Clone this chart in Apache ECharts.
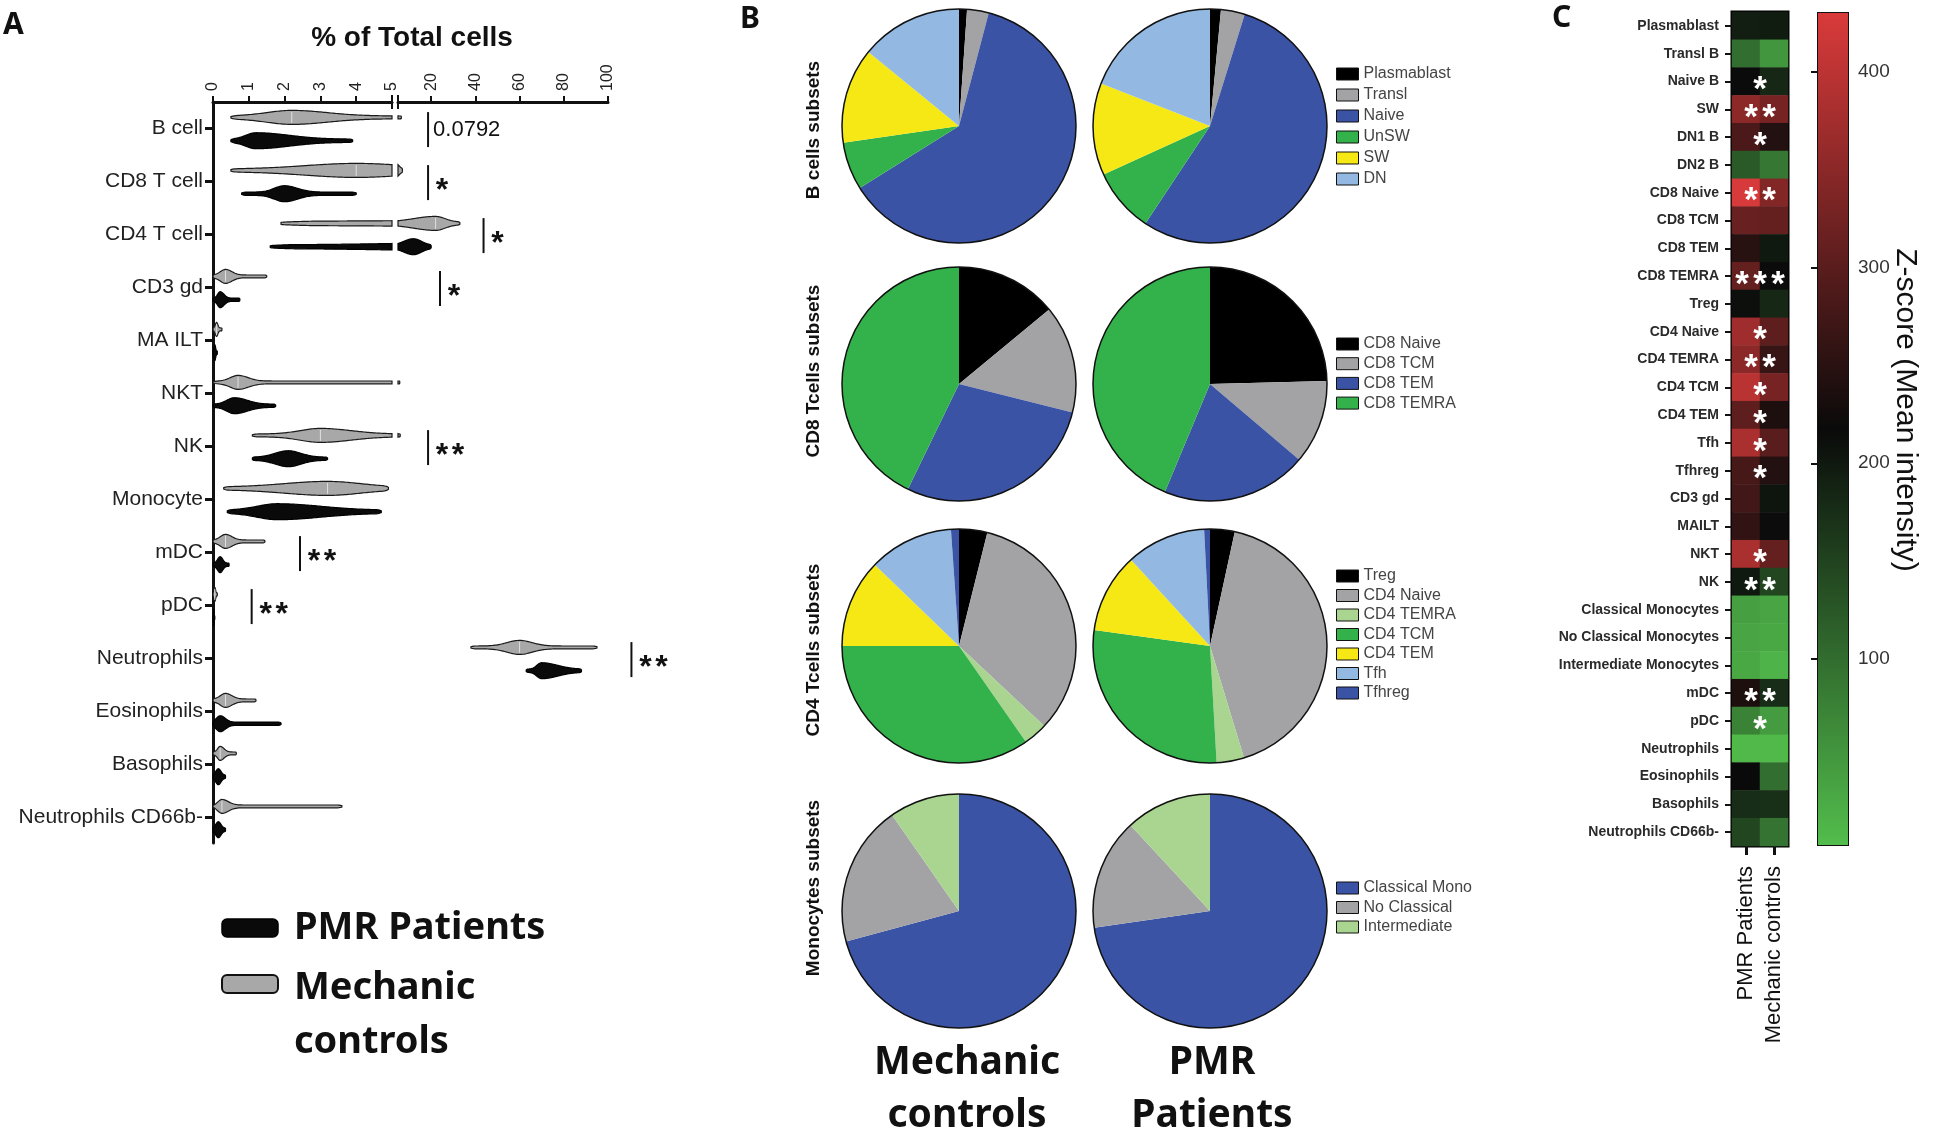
<!DOCTYPE html>
<html><head><meta charset="utf-8">
<script src="https://cdn.jsdelivr.net/npm/echarts@6/dist/echarts.min.js"></script>
<style>html,body{margin:0;padding:0;background:#fff}#c{width:1934px;height:1133px}</style>
</head><body><div id="c"></div>
<script>
// ---------------- Panel A data ----------------
const cellTypes = ['B cell','CD8 T cell','CD4 T cell','CD3 gd','MA ILT','NKT','NK','Monocyte','mDC','pDC','Neutrophils','Eosinophils','Basophils','Neutrophils CD66b-'];
// violins: [min, q1, median, q3, max] (% of total cells)
const ctrlViolin = [
  [0.5, 1.2, 2.2, 3.6, 6.5],
  [0.5, 2.0, 4.0, 6.0, 7.0],
  [1.9, 8, 22, 28, 33],
  [0.0, 0.15, 0.35, 0.6, 1.5],
  [0.0, 0.05, 0.1, 0.15, 0.25],
  [0.0, 0.4, 0.7, 1.1, 5.8],
  [1.1, 2.2, 3.0, 4.2, 6.0],
  [0.3, 1.5, 3.2, 4.5, 4.9],
  [0.0, 0.15, 0.35, 0.6, 1.45],
  [0.0, 0.02, 0.05, 0.08, 0.12],
  [38, 52, 60, 68, 95],
  [0.0, 0.15, 0.35, 0.6, 1.2],
  [0.0, 0.1, 0.2, 0.35, 0.65],
  [0.0, 0.1, 0.25, 0.5, 3.6]
];
const pmrViolin = [
  [0.5, 0.8, 1.2, 2.5, 3.9],
  [0.8, 1.6, 2.0, 2.5, 4.0],
  [1.6, 6, 12, 17, 20],
  [0.0, 0.1, 0.2, 0.35, 0.75],
  [0.0, 0.02, 0.05, 0.08, 0.12],
  [0.0, 0.3, 0.6, 1.1, 1.75],
  [1.1, 1.6, 2.1, 2.6, 3.2],
  [0.4, 1.0, 1.8, 3.5, 4.7],
  [0.0, 0.1, 0.2, 0.3, 0.45],
  [0.0, 0.01, 0.02, 0.03, 0.05],
  [63, 67, 70, 80, 88],
  [0.0, 0.05, 0.2, 0.4, 1.9],
  [0.0, 0.05, 0.15, 0.25, 0.35],
  [0.0, 0.05, 0.15, 0.25, 0.35]
];
const axisLeftTicks = [0,1,2,3,4,5];
const axisRightTicks = [20,40,60,80,100];
const sigRows   = [0, 1, 2, 3, 6, 8, 9, 10];
const sigPos    = [18.6, 18.6, 43.7, 24, 18.6, 2.43, 1.08, 110.6];
const sigLabels = ['0.0792','*','*','*','**','**','**','**'];

// ---------------- Panel B data ----------------
const bNames = ['Plasmablast','Transl','Naive','UnSW','SW','DN'];
const bMC  = [1.1, 3.0, 62.0, 6.6, 13.2, 14.1];
const bPMR = [1.5, 3.3, 54.5, 8.9, 12.7, 19.1];
const cd8Names = ['CD8 Naive','CD8 TCM','CD8 TEM','CD8 TEMRA'];
const cd8MC  = [14.0, 14.9, 28.3, 42.8];
const cd8PMR = [24.6, 11.6, 20.1, 43.7];
const cd4Names = ['Treg','CD4 Naive','CD4 TEMRA','CD4 TCM','CD4 TEM','Tfh','Tfhreg'];
const cd4MC  = [3.9, 33.1, 3.3, 34.7, 12.2, 11.7, 1.1];
const cd4PMR = [3.4, 41.9, 3.8, 28.1, 11.0, 11.0, 0.8];
const monoNames = ['Classical Mono','No Classical','Intermediate'];
const monoMC  = [70.8, 19.5, 9.7];
const monoPMR = [72.7, 15.4, 11.9];

// ---------------- Panel C data ----------------
const hmRows = ['Plasmablast','Transl B','Naive B','SW','DN1 B','DN2 B','CD8 Naive','CD8 TCM','CD8 TEM','CD8 TEMRA','Treg','CD4 Naive','CD4 TEMRA','CD4 TCM','CD4 TEM','Tfh','Tfhreg','CD3 gd','MAILT','NKT','NK','Classical Monocytes','No Classical Monocytes','Intermediate Monocytes','mDC','pDC','Neutrophils','Eosinophils','Basophils','Neutrophils CD66b-'];
const hmCols = ['PMR Patients','Mechanic controls'];
const hmPMR = [194, 99, 220, 351, 284, 123, 428, 315, 248, 310, 212, 371, 351, 397, 305, 382, 279, 274, 259, 382, 200, 39, 33, 30, 238, 75, 10, 217, 176, 146];
const hmMC  = [196, 51, 182, 330, 243, 87, 341, 310, 200, 220, 182, 305, 264, 330, 238, 300, 243, 206, 215, 310, 146, 33, 30, 16, 176, 45, 10, 99, 172, 93];
const hmStars = [0,0,1,2,1,0,2,0,0,3,0,1,2,1,1,1,1,0,0,1,2,0,0,0,2,1,0,0,0,0];
const cbTicks = [100, 200, 300, 400];
const cbMin = 5, cbMax = 430;

// ---------------- styles ----------------
const FONT = 'Liberation Sans';
const hmColors = ['#52bd4c', '#0a0a0a', '#d93a3a'];
const C = {black:'#000000', gray:'#a3a3a6', blue:'#3a53a4', green:'#33b24b', yellow:'#f5e815', lblue:'#93b9e2', lgreen:'#a9d590'};
const bColors = [C.black, C.gray, C.blue, C.green, C.yellow, C.lblue];
const cd8Colors = [C.black, C.gray, C.blue, C.green];
const cd4Colors = [C.black, C.gray, C.lgreen, C.green, C.yellow, C.lblue, C.blue];
const monoColors = [C.blue, C.gray, C.lgreen];

const pieX = [959, 1210], pieY = [126, 384, 646, 911], pieR = 117;
const AX_TOP = 102;   // y of the top axis in panel A

// ---------------- renderers ----------------
function violinRender(lo, hi, off, W, fill, stroke, medColor){
  return function(params, api){
    const idx = api.value(0), mn = api.value(1), q1 = api.value(2), md = api.value(3), q3 = api.value(4), mx = api.value(5);
    const a = Math.max(mn, lo), b = Math.min(mx, hi);
    if (!(b > a)) return;
    const prof = x => {
      const s = x < md ? Math.max(md - q1, 1e-3) : Math.max(q3 - md, 1e-3);
      const t = (x - md) / s;
      let f = 0.2 + 0.8 * Math.exp(-t * t);
      const span = mx - mn, e = Math.min(x - mn, mx - x) / (span * 0.03 + 1e-6);
      if (e < 1) f *= (0.45 + 0.55 * Math.sqrt(Math.max(e, 0)));
      return f;
    };
    const N = 90, top = [], bot = [];
    for (let k = 0; k <= N; k++) {
      const x = a + (b - a) * k / N;
      const f = prof(x);
      const p = api.coord([x, idx + off]);
      top.push([p[0], p[1] - W * f]); bot.push([p[0], p[1] + W * f]);
    }
    const children = [{type:'polygon', shape:{points: top.concat(bot.reverse())}, style:{fill: fill, stroke: stroke, lineWidth: 1.2}}];
    if (medColor && md >= a && md <= b) {
      const p = api.coord([md, idx + off]), f = prof(md);
      children.push({type:'line', shape:{x1:p[0], y1:p[1] - W*f + 1.5, x2:p[0], y2:p[1] + W*f - 1.5}, style:{stroke: medColor, lineWidth: 1}});
    }
    return {type:'group', children};
  };
}
function sigRender(params, api){
  const row = api.value(0), x = api.value(1), k = api.value(2);
  const p1 = api.coord([x, row - 0.3]), p2 = api.coord([x, row + 0.36]);
  const cy = (p1[1] + p2[1]) / 2;
  const lab = sigLabels[k];
  const ch = [{type:'line', shape:{x1:p1[0], y1:p1[1], x2:p2[0], y2:p2[1]}, style:{stroke:'#111', lineWidth:2}}];
  if (lab.indexOf('*') < 0) {
    ch.push({type:'text', x:p1[0] + 5, y:cy, style:{text:lab, fontSize:22, fontFamily:FONT, fill:'#111', align:'left', verticalAlign:'middle'}});
  } else {
    for (let i = 0; i < lab.length; i++)
      ch.push({type:'text', x:p1[0] + 14 + i*16, y:cy + 9, style:{text:'*', fontSize:32, fontWeight:'bold', fontFamily:FONT, fill:'#111', align:'center', verticalAlign:'middle'}});
  }
  return {type:'group', children:ch};
}
function starRender(params, api){
  const row = api.value(0), n = api.value(1);
  if (!n) return;
  const p0 = api.coord([0, row]), p1 = api.coord([1, row]);
  const cx = (p0[0] + p1[0]) / 2, cy = p0[1];
  const ch = [];
  for (let i = 0; i < n; i++)
    ch.push({type:'text', x: cx + (i - (n - 1) / 2) * 18, y: cy + 9, style:{text:'*', fontSize:35, fontWeight:'bold', fontFamily:FONT, fill:'#ffffff', align:'center', verticalAlign:'middle'}});
  return {type:'group', children:ch};
}
function colorbarRender(params, api){
  const pt = api.coord([0, api.value(1)]), pb = api.coord([1, api.value(0)]);
  const stops = hmColors.slice().reverse().map((c, i, arr) => ({offset: i / (arr.length - 1), color: c}));
  return {type:'rect', shape:{x:pt[0], y:pt[1], width:pb[0]-pt[0], height:pb[1]-pt[1]},
          style:{fill: new echarts.graphic.LinearGradient(0, 0, 0, 1, stops)}};
}

// ---------------- series ----------------
const violinDataC = cellTypes.map((c, i) => [i].concat(ctrlViolin[i]));
const violinDataP = cellTypes.map((c, i) => [i].concat(pmrViolin[i]));
const series = [];
[[0, 0, 5], [1, 5, 100]].forEach(([g, lo, hi]) => {
  series.push({type:'custom', name:'Mechanic controls', xAxisIndex:g, yAxisIndex:g, coordinateSystem:'cartesian2d', silent:true,
    renderItem: violinRender(lo, hi, -0.2, 7, '#a8a8a8', '#1a1a1a', '#e0e0e0'), data: violinDataC, encode:{x:3, y:0}});
  series.push({type:'custom', name:'PMR Patients', xAxisIndex:g, yAxisIndex:g, coordinateSystem:'cartesian2d', silent:true,
    renderItem: violinRender(lo, hi, 0.24, 8, '#0a0a0a', '#000000', null), data: violinDataP, encode:{x:3, y:0}});
});
const sigL = [], sigR = [];
sigRows.forEach((r, k) => { (sigPos[k] <= 5 ? sigL : sigR).push([r, sigPos[k], k]); });
series.push({type:'custom', xAxisIndex:0, yAxisIndex:0, coordinateSystem:'cartesian2d', silent:true, renderItem:sigRender, data:sigL, encode:{x:1, y:0}});
series.push({type:'custom', xAxisIndex:1, yAxisIndex:1, coordinateSystem:'cartesian2d', silent:true, renderItem:sigRender, data:sigR, encode:{x:1, y:0}});

function pieSeries(names, vals, colors, cx, cy){
  return {type:'pie', center:[cx, cy], radius:pieR, startAngle:90, clockwise:true, silent:true, animation:false,
    label:{show:false}, labelLine:{show:false}, itemStyle:{borderWidth:0}, emphasis:{disabled:true},
    data: names.map((n, i) => ({name:n, value:vals[i], itemStyle:{color:colors[i]}}))};
}
const pieSets = [[bNames, bMC, bPMR, bColors], [cd8Names, cd8MC, cd8PMR, cd8Colors], [cd4Names, cd4MC, cd4PMR, cd4Colors], [monoNames, monoMC, monoPMR, monoColors]];
pieSets.forEach((s, r) => {
  series.push(pieSeries(s[0], s[1], s[3], pieX[0], pieY[r]));
  series.push(pieSeries(s[0], s[2], s[3], pieX[1], pieY[r]));
});

const heatIndex = series.length;
const heatData = [];
hmRows.forEach((r, i) => { heatData.push([0, i, hmPMR[i]]); heatData.push([1, i, hmMC[i]]); });
series.push({type:'heatmap', xAxisIndex:2, yAxisIndex:2, data:heatData, silent:true, itemStyle:{borderWidth:0}, emphasis:{disabled:true}});
series.push({type:'custom', xAxisIndex:2, yAxisIndex:2, coordinateSystem:'cartesian2d', silent:true, renderItem:starRender,
  data: hmRows.map((r, i) => [i, hmStars[i]]), encode:{y:0}});
series.push({type:'custom', xAxisIndex:3, yAxisIndex:3, coordinateSystem:'cartesian2d', silent:true, renderItem:colorbarRender,
  data:[[cbMin, cbMax]], encode:{y:[0,1]}});

// ---------------- axes ----------------
const catIdx = cellTypes.map((c, i) => i);
const ROW0 = 128, ROW_PITCH = 53.0, AX_BOTTOM = 843;
const yMin = -(ROW0 - AX_TOP) / ROW_PITCH;
const yMax = (cellTypes.length - 1) + (AX_BOTTOM - (ROW0 + (cellTypes.length - 1) * ROW_PITCH)) / ROW_PITCH;
const yA = {type:'value', min:yMin, max:yMax, inverse:true, splitLine:{show:false}};
const xAxisA = {
  type:'value', position:'top', splitLine:{show:false},
  axisLine:{show:true, onZero:false, lineStyle:{color:'#111', width:3}},
  axisTick:{show:true, length:6, lineStyle:{color:'#111', width:2}},
  axisLabel:{rotate:-90, fontSize:16, color:'#222', fontFamily:FONT, margin:11}
};
const legendBase = (names, top, gap) => ({data:names, left:1336, top:top, orient:'vertical', itemWidth:22, itemHeight:12, itemGap:gap,
  icon:'rect', selectedMode:false, padding:0, itemStyle:{borderColor:'#111', borderWidth:1},
  textStyle:{fontSize:16, lineHeight:16, color:'#444', fontFamily:FONT}});

function txt(x, y, text, size, o){
  o = o || {};
  return {type:'text', x:x, y:y, rotation:o.rotation || 0, silent:true,
    style:{text:text, fontSize:size, fontFamily:o.font || FONT, fontWeight:o.weight || 'normal', fill:o.fill || '#111',
           align:o.align || 'left', verticalAlign:'middle'}};
}

const option = {
  animation:false,
  backgroundColor:'#ffffff',
  grid:[
    {left:213, top:AX_TOP, width:179, height:AX_BOTTOM - AX_TOP},
    {left:398, top:AX_TOP, width:210, height:AX_BOTTOM - AX_TOP},
    {left:1732, top:12, width:56, height:834, show:true, borderColor:'#000', borderWidth:3, backgroundColor:'transparent'},
    {left:1818, top:13, width:30, height:832, show:true, borderColor:'#111', borderWidth:2, backgroundColor:'transparent'}
  ],
  xAxis:[
    Object.assign({}, xAxisA, {gridIndex:0, min:0, max:5, interval:1}),
    Object.assign({}, xAxisA, {gridIndex:1, min:5, max:100,
      axisTick:{show:true, length:6, lineStyle:{color:'#111', width:2}, customValues:[5].concat(axisRightTicks)},
      axisLabel:{rotate:-90, fontSize:16, color:'#222', fontFamily:FONT, margin:11, customValues:axisRightTicks}}),
    {gridIndex:2, type:'category', data:hmCols, position:'bottom',
      axisLine:{show:false}, axisTick:{show:true, alignWithLabel:true, length:9, lineStyle:{color:'#111', width:3}},
      axisLabel:{rotate:90, interval:0, fontSize:22, color:'#111', fontFamily:FONT, margin:20}},
    {gridIndex:3, type:'value', min:0, max:1, show:false}
  ],
  yAxis:[
    Object.assign({}, yA, {gridIndex:0,
      axisLine:{show:true, lineStyle:{color:'#111', width:3}},
      axisTick:{show:true, length:8, lineStyle:{color:'#111', width:3}, customValues:catIdx},
      axisLabel:{fontSize:21, color:'#222', fontFamily:FONT, margin:10, customValues:catIdx, formatter:v => cellTypes[Math.round(v)]}}),
    Object.assign({}, yA, {gridIndex:1, show:false}),
    {gridIndex:2, type:'category', data:hmRows, inverse:true,
      axisLine:{show:false}, axisTick:{show:true, alignWithLabel:true, length:7, lineStyle:{color:'#111', width:2}},
      axisLabel:{fontSize:14, fontWeight:'bold', color:'#2a2a2a', fontFamily:FONT, margin:13, interval:0}},
    {gridIndex:3, type:'value', min:cbMin, max:cbMax, position:'right', splitLine:{show:false},
      axisLine:{show:false}, axisTick:{show:true, inside:true, length:7, lineStyle:{color:'#111', width:2}, customValues:cbTicks},
      axisLabel:{fontSize:19, color:'#333', fontFamily:FONT, margin:10, customValues:cbTicks}},
    {gridIndex:3, type:'value', min:cbMin, max:cbMax, position:'left', splitLine:{show:false},
      axisLine:{show:false}, axisTick:{show:true, inside:true, length:7, lineStyle:{color:'#111', width:2}, customValues:cbTicks},
      axisLabel:{show:false}}
  ],
  visualMap:{type:'continuous', min:cbMin, max:cbMax, show:false, seriesIndex:heatIndex, inRange:{color:hmColors}},
  legend:[
    legendBase(bNames, 66, 5),
    legendBase(cd8Names, 336, 3.7),
    legendBase(cd4Names, 568, 3.5),
    legendBase(monoNames, 880, 3.5)
  ],
  graphic:[
    txt(3, 25, 'A', 30, {weight:'bold', font:'Noto Sans'}),
    txt(740, 19, 'B', 30, {weight:'bold', font:'Noto Sans'}),
    txt(1552, 18, 'C', 30, {weight:'bold', font:'Noto Sans'}),
    txt(412, 38, '% of Total cells', 28, {weight:'bold', align:'center'}),
    // axis break marks
    {type:'line', silent:true, shape:{x1:392, y1:AX_TOP - 7, x2:392, y2:AX_TOP + 7}, style:{stroke:'#111', lineWidth:2}},
    {type:'line', silent:true, shape:{x1:398, y1:AX_TOP - 7, x2:398, y2:AX_TOP + 7}, style:{stroke:'#111', lineWidth:2}},
    // panel A legend
    {type:'rect', silent:true, shape:{x:222, y:919, width:56, height:18, r:5}, style:{fill:'#0a0a0a', stroke:'#000', lineWidth:1.5}},
    txt(294, 928, 'PMR Patients', 38, {weight:'bold', font:'Noto Sans'}),
    {type:'rect', silent:true, shape:{x:222, y:975, width:56, height:18, r:5}, style:{fill:'#a8a8a8', stroke:'#111', lineWidth:2}},
    txt(294, 988, 'Mechanic', 38, {weight:'bold', font:'Noto Sans'}),
    txt(294, 1042, 'controls', 38, {weight:'bold', font:'Noto Sans'}),
    // pie outlines
    ...pieY.flatMap(y => pieX.map(x => ({type:'circle', silent:true, z:10, shape:{cx:x, cy:y, r:pieR}, style:{fill:'none', stroke:'#111', lineWidth:1.5}}))),
    // pie row labels
    txt(814, 130, 'B cells subsets', 19, {weight:'bold', align:'center', rotation:Math.PI/2}),
    txt(814, 371, 'CD8 Tcells subsets', 19, {weight:'bold', align:'center', rotation:Math.PI/2}),
    txt(814, 650, 'CD4 Tcells subsets', 19, {weight:'bold', align:'center', rotation:Math.PI/2}),
    txt(814, 888, 'Monocytes subsets', 19, {weight:'bold', align:'center', rotation:Math.PI/2}),
    txt(967, 1063, 'Mechanic', 39, {weight:'bold', align:'center', font:'Noto Sans'}),
    txt(967, 1116, 'controls', 39, {weight:'bold', align:'center', font:'Noto Sans'}),
    txt(1212, 1063, 'PMR', 39, {weight:'bold', align:'center', font:'Noto Sans'}),
    txt(1212, 1116, 'Patients', 39, {weight:'bold', align:'center', font:'Noto Sans'}),
    // colour bar title
    txt(1905, 410, 'Z-score (Mean intensity)', 30, {align:'center', rotation:-Math.PI/2})
  ],
  series: series
};
const chart = echarts.init(document.getElementById('c'), null, {renderer:'canvas'});
chart.setOption(option);
</script>
</body></html>
